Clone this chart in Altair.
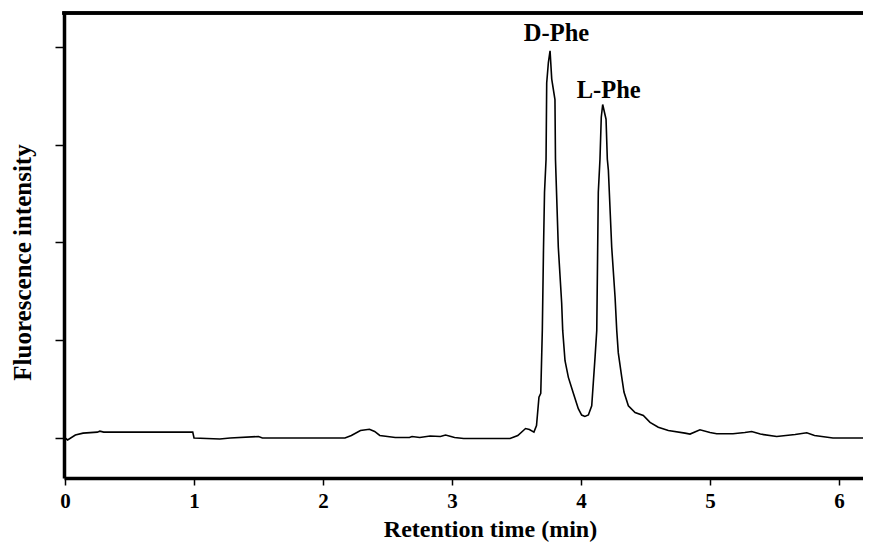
import altair as alt
import pandas as pd

# Chromatogram trace (retention time in min, fluorescence intensity in arbitrary units)
time_min = [0.00, 0.02, 0.08, 0.14, 0.25, 0.27, 0.30, 0.99, 1.00, 1.20, 1.28, 1.50, 1.53,
            2.17, 2.22, 2.29, 2.36, 2.40, 2.44, 2.56, 2.67, 2.69, 2.75, 2.83, 2.91, 2.95,
            3.02, 3.09, 3.45, 3.51, 3.57, 3.60, 3.635, 3.655, 3.674, 3.688, 3.700, 3.709,
            3.717, 3.729, 3.734, 3.747, 3.760, 3.773, 3.798, 3.802, 3.824, 3.850, 3.858,
            3.876, 3.902, 3.940, 3.979, 4.005, 4.03, 4.057, 4.083, 4.095, 4.109, 4.122, 4.134,
            4.147, 4.157, 4.168, 4.194, 4.204, 4.212, 4.238, 4.264, 4.277, 4.289, 4.316,
            4.333, 4.367, 4.419, 4.483, 4.535, 4.599, 4.677, 4.806, 4.845, 4.922, 5.00,
            5.052, 5.178, 5.27, 5.323, 5.39, 5.517, 5.66, 5.75, 5.81, 5.953, 6.25]
intensity = [0.00, -0.02, 0.03, 0.05, 0.06, 0.07, 0.06, 0.06, 0.00, -0.01, 0.00, 0.015, 0.00,
             0.00, 0.025, 0.077, 0.09, 0.067, 0.026, 0.005, 0.005, 0.015, 0.005, 0.02, 0.015, 0.03,
             0.005, -0.005, -0.005, 0.025, 0.097, 0.087, 0.06, 0.128, 0.418, 0.456, 1.10, 1.92,
             2.51, 2.85, 3.63, 3.84, 3.96, 3.67, 3.46, 2.85, 1.95, 1.38, 1.10,
             0.79, 0.62, 0.46, 0.30, 0.235, 0.22, 0.235, 0.33, 0.56, 0.83, 1.10, 2.51,
             2.85, 3.28, 3.41, 3.26, 2.85, 2.74, 1.95, 1.44, 1.10, 0.87, 0.62,
             0.47, 0.33, 0.26, 0.23, 0.16, 0.11, 0.077, 0.05, 0.04, 0.084, 0.056,
             0.043, 0.043, 0.056, 0.067, 0.04, 0.015, 0.036, 0.053, 0.026, 0.00, 0.00]

peak_names = ["D-Phe", "L-Phe"]
peak_label_x = [3.81, 4.215]
peak_label_y = [4.06, 3.48]

x_ticks = [0, 1, 2, 3, 4, 5, 6]
y_ticks = [0, 1, 2, 3, 4]

trace = pd.DataFrame({"t": time_min, "f": intensity})
labels = pd.DataFrame({"name": peak_names, "t": peak_label_x, "f": peak_label_y})

FONT = "Liberation Serif"
W, H = 799, 465

x_scale = alt.Scale(domain=[-0.008, 6.186], nice=False, zero=False)
y_scale = alt.Scale(domain=[-0.409, 4.346], nice=False, zero=False)

line = alt.Chart(trace).mark_line(color="black", strokeWidth=1.6).encode(
    x=alt.X("t:Q", scale=x_scale,
            axis=alt.Axis(values=x_ticks, format="d", title="Retention time (min)",
                          tickSize=7, tickWidth=1.5, labelPadding=5,
                          titleX=426, titleY=58, titleBaseline="alphabetic",
                          titleAlign="center")),
    y=alt.Y("f:Q", scale=y_scale,
            axis=alt.Axis(values=y_ticks, labels=False, title="Fluorescence intensity",
                          tickSize=9, tickWidth=1.5, titleFontSize=25,
                          titleX=-33.5, titleY=249, titleAngle=270,
                          titleBaseline="alphabetic", titleAlign="center")),
)

text = alt.Chart(labels).mark_text(
    font=FONT, fontSize=24.5, fontWeight="bold", color="black",
    align="center", baseline="alphabetic"
).encode(x=alt.X("t:Q", scale=x_scale), y=alt.Y("f:Q", scale=y_scale), text="name:N")

top_border = alt.Chart(labels).mark_rule(color="black", strokeWidth=3.5).encode(
    x=alt.value(-1.75), x2=alt.value(W), y=alt.value(0)
)

chart = alt.layer(line, text, top_border).properties(
    width=W, height=H,
    padding={"left": 56, "top": 5, "right": 0, "bottom": 66},
    autosize=alt.AutoSizeParams(type="none"),
    background="white",
).configure_view(stroke=None).configure_axis(
    grid=False,
    domainColor="black", domainWidth=3.5,
    tickColor="black",
    labelFont=FONT, labelFontSize=21, labelFontWeight="bold", labelColor="black",
    titleFont=FONT, titleFontSize=24, titleFontWeight="bold", titleColor="black",
)

chart.save("out.html", embed_options={"renderer": "svg", "actions": False})
